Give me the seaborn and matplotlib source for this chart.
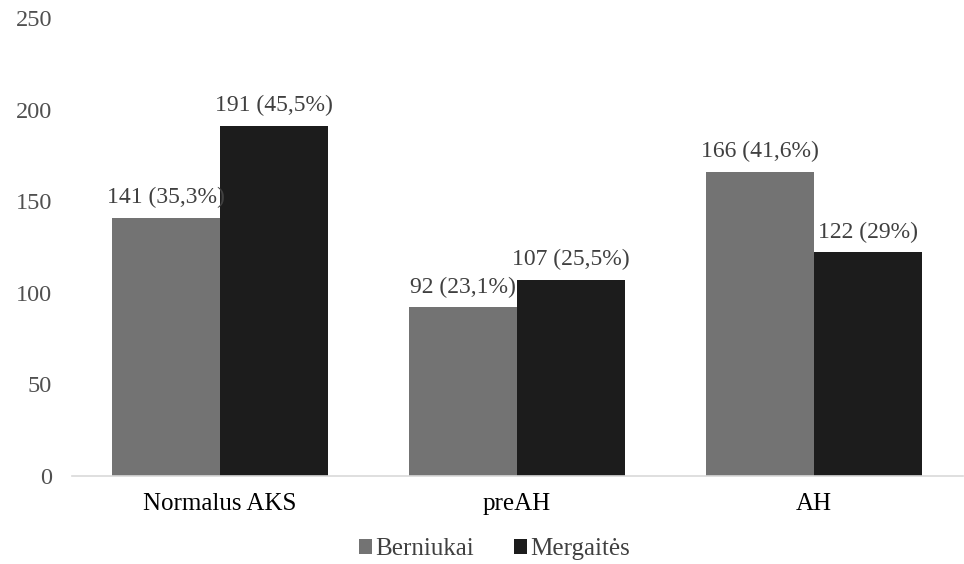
import matplotlib
matplotlib.use("Agg")
import matplotlib.pyplot as plt
import seaborn as sns
import pandas as pd

categories = ["Normalus AKS", "preAH", "AH"]
berniukai = [141, 92, 166]
mergaites = [191, 107, 122]
berniukai_pct = ["35,3%", "23,1%", "41,6%"]
mergaites_pct = ["45,5%", "25,5%", "29%"]
series_names = ["Berniukai", "Mergaitės"]
y_ticks = [0, 50, 100, 150, 200, 250]

df = pd.DataFrame({
    "Grupė": categories * 2,
    "Lytis": [series_names[0]] * 3 + [series_names[1]] * 3,
    "Skaičius": berniukai + mergaites,
})

sns.set_theme(style="white")
plt.rcParams["font.family"] = ["Liberation Serif", "DejaVu Serif"]
text_color = "#404040"

fig = plt.figure(figsize=(9.64, 5.64), dpi=100)
ax = fig.add_axes([71.5 / 964, 88 / 564, 891 / 964, 458 / 564])

sns.barplot(data=df, x="Grupė", y="Skaičius", hue="Lytis",
            palette=["#737373", "#1c1c1c"], width=0.73, saturation=1,
            linewidth=0, ax=ax, legend=True)

labels_all = [berniukai_pct, mergaites_pct]
vals_all = [berniukai, mergaites]
for container, vals, pcts in zip(ax.containers, vals_all, labels_all):
    ax.bar_label(container, labels=[f"{v} ({p})" for v, p in zip(vals, pcts)],
                 padding=7, fontsize=17, color=text_color)

ax.set_ylim(0, 250)
ax.set_xlim(-0.5, 2.5)
ax.set_yticks(y_ticks)
ax.set_xlabel("")
ax.set_ylabel("")
ax.tick_params(axis="y", labelsize=17.5, labelcolor="#505050", length=0, pad=14)
ax.tick_params(axis="x", labelsize=18, labelcolor="#000000", length=0, pad=12)
for s in ["top", "right", "left"]:
    ax.spines[s].set_visible(False)
ax.spines["bottom"].set_color("#d9d9d9")
ax.spines["bottom"].set_linewidth(1.2)

leg = ax.legend(loc="upper center", bbox_to_anchor=(0.475, -0.087), ncol=2,
                frameon=False, fontsize=18, handlelength=0.5, handleheight=0.5,
                handletextpad=0.15, columnspacing=1.6)
for t in leg.get_texts():
    t.set_color(text_color)

fig.savefig("out.png", dpi=100)
